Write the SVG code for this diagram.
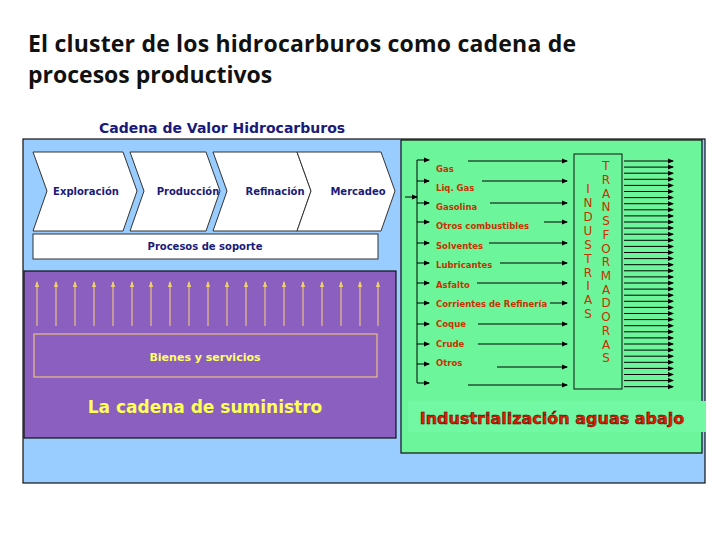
<svg xmlns="http://www.w3.org/2000/svg" width="728" height="546" viewBox="0 0 728 546">
<defs>
<marker id="ah" markerWidth="6" markerHeight="6" refX="5" refY="3" orient="auto" markerUnits="userSpaceOnUse"><path d="M0,0.5 L6,3 L0,5.5z" fill="#000"/></marker>
<marker id="ay" markerWidth="6" markerHeight="6" refX="5" refY="3" orient="auto" markerUnits="userSpaceOnUse"><path d="M0,0.8 L6,3 L0,5.2z" fill="#f0d070"/></marker>
<style>
.t{font-family:"DejaVu Sans",sans-serif;font-weight:bold}
.nv{fill:#1a1a7a;font-size:10px}
.rd{fill:#c83200;font-size:8.5px;font-family:"DejaVu Sans",sans-serif;font-weight:bold}
.ch{fill:#fff;stroke:#333;stroke-width:1}
.bl{stroke:#000;stroke-width:1;marker-end:url(#ah)}
.yl{stroke:#e8c080;stroke-width:1.2;marker-end:url(#ay)}
.lt{fill:#c83200;font-family:"DejaVu Sans",sans-serif;font-size:12px;text-anchor:middle}
</style>
</defs>
<rect width="728" height="546" fill="#fff"/>
<text x="28" y="52" font-family="Open Sans,sans-serif" font-weight="bold" font-size="23" fill="#111" textLength="548">El cluster de los hidrocarburos como cadena de</text>
<text x="28" y="83" font-family="Open Sans,sans-serif" font-weight="bold" font-size="23" fill="#111">procesos productivos</text>
<text x="222" y="133" class="t" font-size="14" fill="#1a1a7a" text-anchor="middle">Cadena de Valor Hidrocarburos</text>
<rect id="outer" x="23" y="139" width="682" height="344" fill="#99ccff" stroke="#111" stroke-width="1.2"/>
<g id="chevrons">
<g id="exploracion"><polygon class="ch" points="33,152 123,152 137,191 123,231 33,231 47,191"/><text x="86" y="195" class="t nv" text-anchor="middle">Exploración</text></g>
<g id="produccion"><polygon class="ch" points="130,152 206,152 220,191 206,231 130,231 144,191"/><text x="188" y="195" class="t nv" text-anchor="middle">Producción</text></g>
<g id="refinacion"><polygon class="ch" points="213,152 297,152 311,191 297,231 213,231 227,191"/><text x="275" y="195" class="t nv" text-anchor="middle">Refinación</text></g>
<g id="mercadeo"><polygon class="ch" points="297,152 381,152 395,191 381,231 297,231 311,191"/><text x="358" y="195" class="t nv" text-anchor="middle">Mercadeo</text></g>
</g>
<g id="soporte"><rect x="33" y="234" width="345" height="25" fill="#fff" stroke="#333"/><text x="205" y="250" class="t nv" text-anchor="middle">Procesos de soporte</text></g>
<g id="suministro">
<rect x="24" y="271" width="372" height="167" fill="#8a5fbf" stroke="#111" stroke-width="1.2"/>
<g id="up-arrows">
<line class="yl" x1="37" y1="326" x2="37" y2="282"/><line class="yl" x1="56" y1="326" x2="56" y2="282"/><line class="yl" x1="75" y1="326" x2="75" y2="282"/><line class="yl" x1="94" y1="326" x2="94" y2="282"/><line class="yl" x1="113" y1="326" x2="113" y2="282"/><line class="yl" x1="132" y1="326" x2="132" y2="282"/><line class="yl" x1="151" y1="326" x2="151" y2="282"/><line class="yl" x1="170" y1="326" x2="170" y2="282"/><line class="yl" x1="189" y1="326" x2="189" y2="282"/><line class="yl" x1="208" y1="326" x2="208" y2="282"/><line class="yl" x1="227" y1="326" x2="227" y2="282"/><line class="yl" x1="246" y1="326" x2="246" y2="282"/><line class="yl" x1="265" y1="326" x2="265" y2="282"/><line class="yl" x1="284" y1="326" x2="284" y2="282"/><line class="yl" x1="303" y1="326" x2="303" y2="282"/><line class="yl" x1="322" y1="326" x2="322" y2="282"/><line class="yl" x1="341" y1="326" x2="341" y2="282"/><line class="yl" x1="360" y1="326" x2="360" y2="282"/><line class="yl" x1="378" y1="326" x2="378" y2="282"/>
</g>
<rect x="34" y="334" width="343" height="43" fill="none" stroke="#e8c080" stroke-width="1.2"/>
<text x="205" y="361" class="t" font-size="11" fill="#ffff66" text-anchor="middle">Bienes y servicios</text>
<text x="205" y="413" class="t" font-size="17" fill="#ffff55" text-anchor="middle">La cadena de suministro</text>
</g>
<g id="aguas-abajo">
<rect x="401" y="140" width="301" height="313" fill="#6cf59a" stroke="#111" stroke-width="1.2"/>
<rect x="408" y="401" width="298" height="31" fill="#72f7a2"/>
<text x="552" y="424" class="t" font-size="16" fill="#e02000" stroke="#400" stroke-width="0.5" text-anchor="middle">Industrialización aguas abajo</text>
<g class="rd">
<text x="436" y="172">Gas</text><text x="436" y="191">Liq. Gas</text><text x="436" y="210">Gasolina</text><text x="436" y="229">Otros combustibles</text><text x="436" y="249">Solventes</text><text x="436" y="268">Lubricantes</text><text x="436" y="288">Asfalto</text><text x="436" y="307">Corrientes de Refinería</text><text x="436" y="327">Coque</text><text x="436" y="347">Crude</text><text x="436" y="366">Otros</text>
</g>
<g id="industrias"><rect x="574" y="154" width="48" height="235" fill="#6cf59a" stroke="#111"/>
<g class="lt"><text x="588" y="193">I</text><text x="588" y="207">N</text><text x="588" y="221">D</text><text x="588" y="235">U</text><text x="588" y="249">S</text><text x="588" y="263">T</text><text x="588" y="277">R</text><text x="588" y="290">I</text><text x="588" y="304">A</text><text x="588" y="318">S</text>
<text x="606" y="170">T</text><text x="606" y="184">R</text><text x="606" y="198">A</text><text x="606" y="211">N</text><text x="606" y="225">S</text><text x="606" y="239">F</text><text x="606" y="253">O</text><text x="606" y="266">R</text><text x="606" y="280">M</text><text x="606" y="294">A</text><text x="606" y="307">D</text><text x="606" y="321">O</text><text x="606" y="335">R</text><text x="606" y="349">A</text><text x="606" y="362">S</text></g></g>
</g>
<g id="connectors">
<line x1="417" y1="160" x2="417" y2="383" stroke="#000"/>
<line class="bl" x1="405" y1="197" x2="417" y2="197"/>
<line class="bl" x1="417" y1="160" x2="429" y2="160"/><line class="bl" x1="417" y1="181" x2="429" y2="181"/><line class="bl" x1="417" y1="203" x2="429" y2="203"/><line class="bl" x1="417" y1="222" x2="429" y2="222"/><line class="bl" x1="417" y1="243" x2="429" y2="243"/><line class="bl" x1="417" y1="263" x2="429" y2="263"/><line class="bl" x1="417" y1="283" x2="429" y2="283"/><line class="bl" x1="417" y1="303" x2="429" y2="303"/><line class="bl" x1="417" y1="324" x2="429" y2="324"/><line class="bl" x1="417" y1="344" x2="429" y2="344"/><line class="bl" x1="417" y1="364" x2="429" y2="364"/><line class="bl" x1="417" y1="383" x2="429" y2="383"/>
<line class="bl" x1="468" y1="161" x2="567" y2="161"/><line class="bl" x1="482" y1="181" x2="567" y2="181"/><line class="bl" x1="490" y1="203" x2="567" y2="203"/><line class="bl" x1="544" y1="222" x2="567" y2="222"/><line class="bl" x1="489" y1="243" x2="567" y2="243"/><line class="bl" x1="500" y1="263" x2="567" y2="263"/><line class="bl" x1="477" y1="283" x2="567" y2="283"/><line class="bl" x1="550" y1="303" x2="567" y2="303"/><line class="bl" x1="478" y1="324" x2="567" y2="324"/><line class="bl" x1="478" y1="344" x2="567" y2="344"/><line class="bl" x1="497" y1="367" x2="567" y2="367"/><line class="bl" x1="468" y1="385" x2="567" y2="385"/>
<g id="outputs">
<line class="bl" x1="624" y1="161" x2="673" y2="161"/><line class="bl" x1="624" y1="167.1" x2="673" y2="167.1"/><line class="bl" x1="624" y1="173.2" x2="673" y2="173.2"/><line class="bl" x1="624" y1="179.3" x2="673" y2="179.3"/><line class="bl" x1="624" y1="185.4" x2="673" y2="185.4"/><line class="bl" x1="624" y1="191.5" x2="673" y2="191.5"/><line class="bl" x1="624" y1="197.6" x2="673" y2="197.6"/><line class="bl" x1="624" y1="203.7" x2="673" y2="203.7"/><line class="bl" x1="624" y1="209.8" x2="673" y2="209.8"/><line class="bl" x1="624" y1="215.9" x2="673" y2="215.9"/><line class="bl" x1="624" y1="222" x2="673" y2="222"/><line class="bl" x1="624" y1="228.1" x2="673" y2="228.1"/><line class="bl" x1="624" y1="234.2" x2="673" y2="234.2"/><line class="bl" x1="624" y1="240.3" x2="673" y2="240.3"/><line class="bl" x1="624" y1="246.4" x2="673" y2="246.4"/><line class="bl" x1="624" y1="252.5" x2="673" y2="252.5"/><line class="bl" x1="624" y1="258.6" x2="673" y2="258.6"/><line class="bl" x1="624" y1="264.7" x2="673" y2="264.7"/><line class="bl" x1="624" y1="270.8" x2="673" y2="270.8"/><line class="bl" x1="624" y1="276.9" x2="673" y2="276.9"/><line class="bl" x1="624" y1="283" x2="673" y2="283"/><line class="bl" x1="624" y1="289.1" x2="673" y2="289.1"/><line class="bl" x1="624" y1="295.2" x2="673" y2="295.2"/><line class="bl" x1="624" y1="301.3" x2="673" y2="301.3"/><line class="bl" x1="624" y1="307.4" x2="673" y2="307.4"/><line class="bl" x1="624" y1="313.5" x2="673" y2="313.5"/><line class="bl" x1="624" y1="319.6" x2="673" y2="319.6"/><line class="bl" x1="624" y1="325.7" x2="673" y2="325.7"/><line class="bl" x1="624" y1="331.8" x2="673" y2="331.8"/><line class="bl" x1="624" y1="337.9" x2="673" y2="337.9"/><line class="bl" x1="624" y1="344" x2="673" y2="344"/><line class="bl" x1="624" y1="350.1" x2="673" y2="350.1"/><line class="bl" x1="624" y1="356.2" x2="673" y2="356.2"/><line class="bl" x1="624" y1="362.3" x2="673" y2="362.3"/><line class="bl" x1="624" y1="368.4" x2="673" y2="368.4"/><line class="bl" x1="624" y1="374.5" x2="673" y2="374.5"/><line class="bl" x1="624" y1="380.6" x2="673" y2="380.6"/><line class="bl" x1="624" y1="386.7" x2="673" y2="386.7"/>
</g>
</g>
</svg>
